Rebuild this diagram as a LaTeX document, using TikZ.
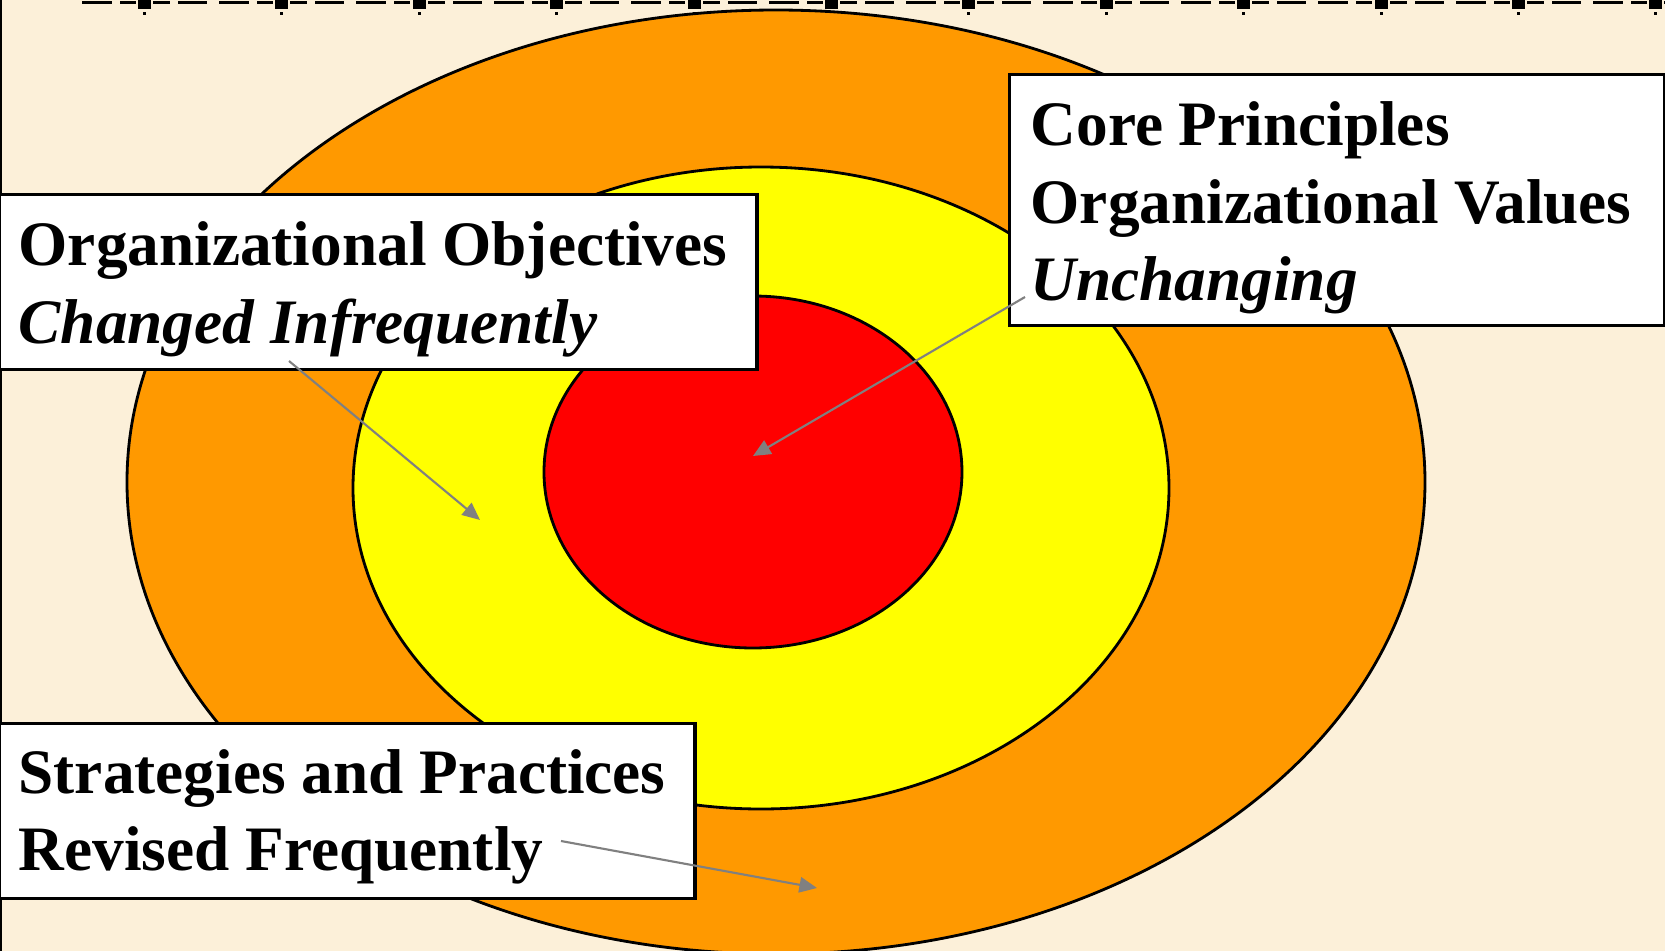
\documentclass[tikz,border=0pt]{standalone}
\usepackage{fontspec}
\setmainfont{Liberation Serif}
\usetikzlibrary{arrows.meta}

\definecolor{parchment}{RGB}{252,240,217}
\definecolor{ringorange}{RGB}{255,153,0}
\definecolor{ringyellow}{RGB}{255,255,0}
\definecolor{ringred}{RGB}{255,0,0}
\definecolor{pointergray}{RGB}{128,128,128}

\begin{document}
\begin{tikzpicture}[x=0.01cm, y=-0.01cm,
    ring/.style={draw=black, line width=0.8pt},
    infobox/.style={draw=black, fill=white, line width=0.9pt, inner sep=0pt, anchor=north west},
    boxline/.style={anchor=base west, inner sep=0pt, font=\fontsize{18}{22}\selectfont\bfseries},
    pointer/.style={draw=pointergray, line width=0.6pt, -{Triangle[length=5pt,width=4.4pt]}}]
    % Page: parchment background and left frame edge
    \useasboundingbox (0,0) rectangle (1665,951);
    \fill[parchment] (0,0) rectangle (1665,951);
    \draw[line width=0.6pt] (1,0) -- (1,951);

    % Ruler along the top edge (squares, dots and dashes)
    \begin{scope}
      \clip (78,-1) rectangle (1666,20);
      \foreach \k in {-1,...,11} {
        \pgfmathsetmacro{\s}{138+137.4*\k}
        \fill (\s,0) rectangle ++(13,9);     % square mark
        \fill (\s+5,12) rectangle ++(3,3);   % tick dot
        \foreach \a/\b in {15/32, 40/69, 81/111, 119/135}
          \fill (\s+\a,1.2) rectangle (\s+\b,4.2);
      }
    \end{scope}

    % Nested rings: outer, middle, core
    \draw[ring, fill=ringorange] (776,482) ellipse [x radius=649, y radius=472];
    \draw[ring, fill=ringyellow] (761,488) ellipse [x radius=408, y radius=321];
    \draw[ring, fill=ringred] (753,472) ellipse [x radius=209, y radius=176];

    % Objectives box (middle ring)
    \node[infobox, minimum width=7.57cm, minimum height=1.75cm] (objbox) at (-2,193) {};
    \node[boxline] (objA) at (18,265) {Organizational Objectives};
    \node[boxline] (objB) at (18,343) {\itshape Changed Infrequently};

    % Principles box (core)
    \node[infobox, minimum width=6.55cm, minimum height=2.51cm] (corebox) at (1008,73) {};
    \node[boxline] (coreA) at (1030,145) {Core Principles};
    \node[boxline] (coreB) at (1030,223) {Organizational Values};
    \node[boxline] (coreC) at (1030,300) {\itshape Unchanging};

    % Strategies box (outer ring)
    \node[infobox, minimum width=6.95cm, minimum height=1.75cm] (strbox) at (-2,722) {};
    \node[boxline] (strA) at (18,793) {Strategies and Practices};
    \node[boxline] (strB) at (18,870) {Revised Frequently};

    % Pointers from the boxes into the rings
    \coordinate (objTail) at (289,361);
    \coordinate (objTip) at (480,520);
    \coordinate (coreTail) at (1025,297);
    \coordinate (coreTip) at (753,456);
    \coordinate (strTail) at (561,841);
    \coordinate (strTip) at (817,888);
    \draw[pointer] (objTail) -- (objTip);
    \draw[pointer] (coreTail) -- (coreTip);
    \draw[pointer] (strTail) -- (strTip);
\end{tikzpicture}
\end{document}
